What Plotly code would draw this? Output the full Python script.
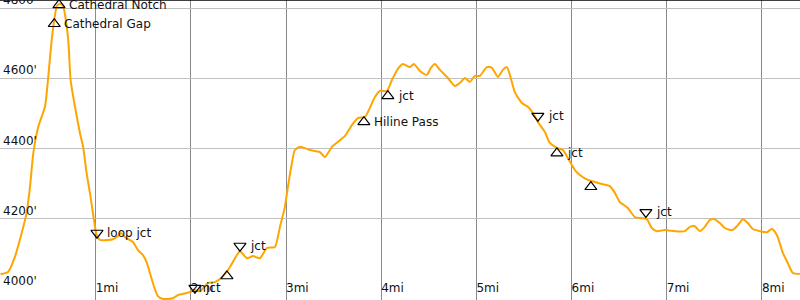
import plotly.graph_objects as go

# Elevation profile (distance in miles, elevation in feet)
dist_mi = [0.00, 0.079, 0.152, 0.223, 0.275, 0.310, 0.345, 0.397, 0.467, 0.502,
           0.538, 0.565, 0.593, 0.625, 0.657, 0.678, 0.712, 0.737, 0.783, 0.835,
           0.870, 0.905, 0.947, 0.982, 1.011, 1.045, 1.129, 1.182, 1.234, 1.266,
           1.308, 1.392, 1.444, 1.497, 1.539, 1.570, 1.602, 1.654, 1.707, 1.812,
           1.864, 1.959, 2.043, 2.096, 2.180, 2.253, 2.327, 2.411, 2.484, 2.516,
           2.589, 2.652, 2.726, 2.799, 2.883, 2.936, 2.988, 3.020, 3.062, 3.093,
           3.146, 3.251, 3.356, 3.408, 3.482, 3.545, 3.619, 3.692, 3.755, 3.829,
           3.881, 3.934, 3.986, 4.060, 4.112, 4.175, 4.228, 4.301, 4.343, 4.407,
           4.480, 4.522, 4.564, 4.617, 4.701, 4.774, 4.827, 4.879, 4.932, 4.984,
           5.037, 5.110, 5.163, 5.226, 5.278, 5.320, 5.352, 5.404, 5.478, 5.541,
           5.594, 5.646, 5.720, 5.772, 5.846, 5.909, 5.961, 6.035, 6.087, 6.171,
           6.245, 6.318, 6.402, 6.455, 6.507, 6.591, 6.665, 6.738, 6.791, 6.843,
           6.896, 6.980, 7.085, 7.190, 7.243, 7.295, 7.348, 7.400, 7.453, 7.500,
           7.558, 7.610, 7.689, 7.747, 7.800, 7.852, 7.904, 7.978, 8.052, 8.104,
           8.157, 8.220, 8.272, 8.325, 8.398]
elev_ft = [4043, 4049, 4092, 4160, 4217, 4291, 4387, 4462, 4519, 4604,
           4709, 4766, 4806, 4812, 4806, 4781, 4709, 4595, 4519, 4444,
           4402, 4330, 4262, 4197, 4154, 4140, 4140, 4142, 4151, 4160,
           4148, 4134, 4111, 4097, 4074, 4046, 4017, 3980, 3972, 3974,
           3983, 3989, 3997, 3994, 4017, 4020, 4034, 4063, 4097, 4108,
           4088, 4094, 4088, 4117, 4120, 4177, 4234, 4291, 4359, 4396,
           4405, 4396, 4390, 4376, 4405, 4419, 4436, 4467, 4487, 4490,
           4516, 4547, 4564, 4564, 4595, 4627, 4641, 4632, 4641, 4621,
           4610, 4630, 4641, 4624, 4601, 4578, 4587, 4601, 4590, 4607,
           4607, 4632, 4630, 4604, 4624, 4632, 4610, 4561, 4530, 4519,
           4501, 4476, 4447, 4416, 4402, 4396, 4373, 4339, 4325, 4311,
           4305, 4299, 4293, 4274, 4248, 4231, 4205, 4202, 4199, 4174,
           4165, 4168, 4165, 4165, 4177, 4179, 4165, 4177, 4197, 4199,
           4188, 4174, 4168, 4182, 4199, 4188, 4171, 4165, 4162, 4171,
           4154, 4103, 4074, 4046, 4043]

# Waypoints
up_mi = [0.565, 0.615, 2.379, 3.818, 4.070, 5.846, 6.203]
up_ft = [4755, 4809, 4037, 4476, 4550, 4387, 4291]
up_names = ["Cathedral Gap", "Cathedral Notch", "", "Hiline Pass", "jct", "jct", ""]

down_mi = [1.014, 2.043, 2.516, 5.646, 6.781]
down_ft = [4160, 4003, 4123, 4493, 4219]
down_names = ["loop jct", "jct", "jct", "jct", "jct"]

x_ticks = [1, 2, 3, 4, 5, 6, 7, 8]
x_tick_labels = [f"{v}mi" for v in x_ticks]
y_ticks = [4000, 4200, 4400, 4600, 4800]
y_tick_labels = [f"{v}'" for v in y_ticks]

font_family = "DejaVu Sans"
text_color = "#111111"

fig = go.Figure()
fig.add_trace(go.Scatter(
    x=dist_mi, y=elev_ft, mode="lines",
    line=dict(color="#ffa500", width=2, shape="spline", smoothing=0.6),
    hoverinfo="skip", showlegend=False))

fig.add_trace(go.Scatter(
    x=up_mi, y=up_ft, mode="markers",
    marker=dict(symbol="triangle-up-open", size=10.5, color="black",
                line=dict(width=1.2, color="black")),
    showlegend=False))

fig.add_trace(go.Scatter(
    x=down_mi, y=down_ft, mode="markers",
    marker=dict(symbol="triangle-down-open", size=10.5, color="black",
                line=dict(width=1.2, color="black")),
    showlegend=False))

annotations = []
for xs, ys, names in ((up_mi, up_ft, up_names), (down_mi, down_ft, down_names)):
    for xv, yv, name in zip(xs, ys, names):
        if name:
            annotations.append(dict(
                x=xv, y=yv, xref="x", yref="y", text=name, showarrow=False,
                xanchor="left", yanchor="middle", xshift=8,
                font=dict(family=font_family, size=12, color=text_color)))

for yv, lab in zip(y_ticks, y_tick_labels):
    annotations.append(dict(
        x=0, y=yv, xref="paper", yref="y", text=lab, showarrow=False,
        xanchor="left", yanchor="bottom", xshift=1, yshift=-1,
        font=dict(family=font_family, size=12, color=text_color)))

fig.update_layout(
    width=800, height=300,
    margin=dict(l=0, r=0, t=0, b=0),
    paper_bgcolor="white", plot_bgcolor="white",
    font=dict(family=font_family, size=12, color=text_color),
    xaxis=dict(range=[-0.005, 8.40], tickmode="array", tickvals=x_ticks,
               ticktext=x_tick_labels,
               ticklabelposition="inside right", showgrid=True,
               gridcolor="#8a8a8a", gridwidth=1, zeroline=False,
               showline=False, ticks="", fixedrange=True,
               tickfont=dict(family=font_family, size=12, color=text_color)),
    yaxis=dict(range=[3969, 4823], tickmode="array", tickvals=y_ticks,
               showticklabels=False, showgrid=True,
               gridcolor="#c0c0c0", gridwidth=1, zeroline=False,
               showline=True, linecolor="black", linewidth=1.5,
               ticks="", fixedrange=True),
    annotations=annotations,
    shapes=[dict(type="line", xref="paper", yref="paper", x0=0, x1=1,
                 y0=1, y1=1, line=dict(color="black", width=1.5))],
)

fig.write_html("out.html")
